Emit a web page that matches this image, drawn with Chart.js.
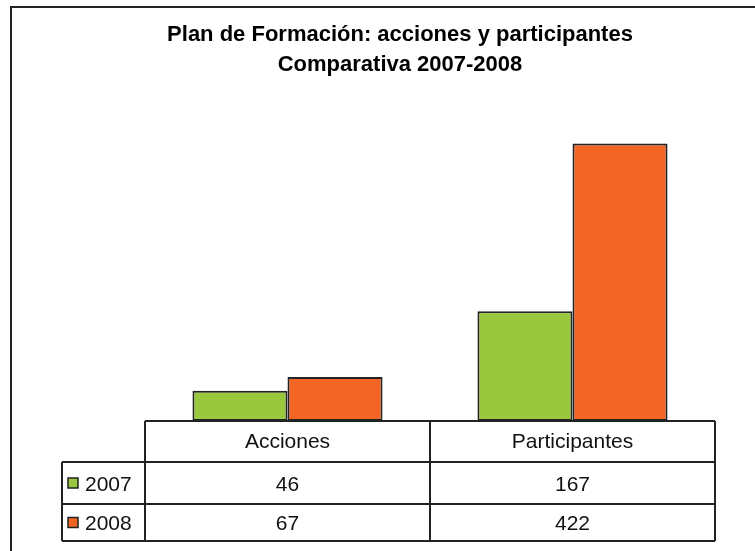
<!DOCTYPE html>
<html>
<head>
<meta charset="utf-8">
<script src="https://cdn.jsdelivr.net/npm/chart.js@4.4.1/dist/chart.umd.min.js"></script>
<style>
  body { margin: 0; background: #fff; }
  canvas { display: block; }
</style>
</head>
<body>
<canvas id="myChart" width="755" height="551"></canvas>
<script>
var categorias = ['Acciones', 'Participantes'];
var anios = ['2007', '2008'];
var valores2007 = [46, 167];
var valores2008 = [67, 422];
var colores = ['rgb(153, 199, 61)', 'rgb(242, 101, 37)'];

// dibuja el marco y la tabla de datos debajo de las barras
var tablaPlugin = {
    id: 'tabla',
    beforeDraw: function (chart) {
        var ctx = chart.ctx;
        ctx.save();
        ctx.fillStyle = '#fff';
        ctx.fillRect(0, 0, chart.width, chart.height);
        ctx.strokeStyle = '#222';
        ctx.lineWidth = 2;
        ctx.strokeRect(11, 7, chart.width + 20, chart.height + 20);
        ctx.restore();
    },
    afterDraw: function (chart) {
        var ctx = chart.ctx;
        var x = chart.scales.x;
        var area = chart.chartArea;
        var filas = [41, 42, 37];
        var izq = 62;
        var ancho = (area.right - area.left) / categorias.length;
        var y0 = area.bottom;
        var y1 = y0 + filas[0];
        var y2 = y1 + filas[1];
        var y3 = y2 + filas[2];

        ctx.save();
        ctx.strokeStyle = '#222';
        ctx.lineWidth = 2;
        ctx.beginPath();
        // cabecera
        ctx.moveTo(area.left, y0); ctx.lineTo(area.right, y0);
        ctx.moveTo(izq, y1); ctx.lineTo(area.right, y1);
        ctx.moveTo(izq, y2); ctx.lineTo(area.right, y2);
        ctx.moveTo(izq, y3); ctx.lineTo(area.right, y3);
        ctx.moveTo(izq, y1); ctx.lineTo(izq, y3);
        for (var i = 0; i <= categorias.length; i++) {
            var cx = area.left + i * ancho;
            ctx.moveTo(cx, y0); ctx.lineTo(cx, y3);
        }
        ctx.stroke();

        ctx.fillStyle = '#111';
        ctx.font = '21px "Liberation Sans", Arial, sans-serif';
        ctx.textBaseline = 'middle';
        ctx.textAlign = 'center';
        var series = [valores2007, valores2008];
        for (var i = 0; i < categorias.length; i++) {
            var px = x.getPixelForValue(i);
            ctx.fillText(categorias[i], px, (y0 + y1) / 2 + 1);
            ctx.fillText(String(series[0][i]), px, (y1 + y2) / 2 + 2);
            ctx.fillText(String(series[1][i]), px, (y2 + y3) / 2 + 2);
        }
        ctx.textAlign = 'left';
        var ys = [(y1 + y2) / 2, (y2 + y3) / 2];
        for (var j = 0; j < anios.length; j++) {
            ctx.fillStyle = colores[j];
            ctx.fillRect(68, ys[j] - 5, 10, 10);
            ctx.lineWidth = 1.5;
            ctx.strokeRect(68, ys[j] - 5, 10, 10);
            ctx.fillStyle = '#111';
            ctx.fillText(anios[j], 85, ys[j] + 2);
        }
        ctx.restore();
    }
};

var ctx = document.getElementById('myChart').getContext('2d');

var data = {
    labels: categorias,
    datasets: [
        {
            label: anios[0],
            data: valores2007,
            backgroundColor: colores[0],
            borderColor: '#222',
            borderWidth: 2,
            borderSkipped: false
        },
        {
            label: anios[1],
            data: valores2008,
            backgroundColor: colores[1],
            borderColor: '#222',
            borderWidth: 2,
            borderSkipped: false
        }
    ]
};

var config = {
    type: 'bar',
    data: data,
    options: {
        responsive: false,
        animation: false,
        devicePixelRatio: 1,
        layout: {
            padding: {left: 85, right: 40, top: 0, bottom: 130}
        },
        datasets: {
            bar: {categoryPercentage: 0.667, barPercentage: 1}
        },
        scales: {
            x: {display: false},
            y: {
                min: 0,
                max: 450,
                ticks: {display: false},
                grid: {display: false},
                border: {display: false},
                // eje invisible que deja el hueco de la columna de leyenda
                afterFit: function (scale) { scale.width = 60; }
            }
        },
        plugins: {
            legend: {display: false},
            tooltip: {enabled: false},
            title: {
                display: true,
                text: ['Plan de Formación: acciones y participantes', 'Comparativa 2007-2008'],
                color: '#000',
                font: {family: '"Liberation Sans", Arial, sans-serif', size: 22, weight: 'bold', lineHeight: 1.3636},
                padding: {top: 20, bottom: 45}
            }
        }
    },
    plugins: [tablaPlugin]
};

var myChart = new Chart(ctx, config);
</script>
</body>
</html>
